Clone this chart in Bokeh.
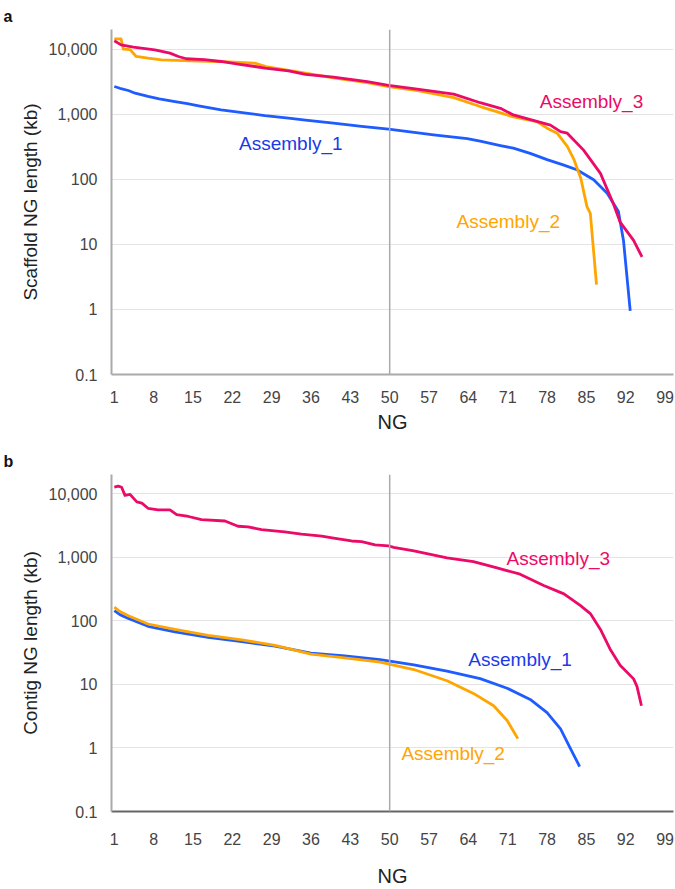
from bokeh.plotting import figure
from bokeh.models import Range1d, FixedTicker, NumeralTickFormatter, Span
from bokeh.layouts import column
from bokeh.core.properties import value
from bokeh.embed import file_html
from bokeh.resources import INLINE

FONT = "Liberation Sans"
BLUE = "#1f5cff"
ORANGE = "#ffa500"
PINK = "#ec0a68"
BLUE_T = "#1a3ae8"

x_ticks = [1, 8, 15, 22, 29, 36, 43, 50, 57, 64, 71, 78, 85, 92, 99]
y_ticks = [0.1, 1, 10, 100, 1000, 10000]
series_names = ["Assembly_1", "Assembly_2", "Assembly_3"]

# ---- Panel a: scaffold NG length (kb) ----
sc1_ng = [1, 2, 3.5, 4.7, 7, 9, 11.8, 14, 16, 20, 24.8, 27.8, 32, 35, 40, 45, 49.8,
          54, 57.8, 63.8, 66.1, 69.7, 72, 75, 78, 81, 83.3, 86.3, 88.7, 90.7, 91.6, 92.8]
sc1_len = [2660, 2500, 2310, 2100, 1870, 1720, 1560, 1450, 1340, 1160, 1030, 950, 870,
           810, 730, 650, 590, 530, 480, 420, 385, 330, 300, 250, 200, 165, 140, 98,
           61, 32, 11.5, 0.95]

sc2_ng = [1, 2.2, 2.6, 3.8, 4.9, 7, 9.4, 14.7, 19.5, 26, 28, 29.6, 35, 40, 46, 49.8,
          55, 61.4, 66.1, 72, 76.2, 78, 79.8, 81.6, 82.8, 84, 85.1, 85.7, 86.8]
sc2_len = [14400, 14400, 10000, 9800, 7700, 7250, 6850, 6600, 6450, 6100, 5400, 5100,
           4270, 3600, 3050, 2650, 2300, 1800, 1310, 910, 770, 610, 510, 320, 200, 104,
           38, 30, 2.4]

sc3_ng = [1, 2.2, 4.4, 8.2, 10.9, 12.4, 13.8, 17, 20, 23, 26, 27.8, 32, 35, 40, 46,
          49.8, 54.9, 61.4, 66.1, 69.7, 72, 78.6, 80.4, 81.6, 84.5, 87.5, 89.8, 91,
          93.4, 94.9]
sc3_len = [13400, 11600, 10700, 9750, 8680, 7700, 7100, 6900, 6450, 5880, 5400, 5090,
           4640, 4100, 3720, 3170, 2760, 2420, 2030, 1500, 1230, 975, 680, 540, 510,
           280, 123, 42, 22, 11.5, 6.4]

# ---- Panel b: contig NG length (kb) ----
ct1_ng = [1, 2, 3.5, 7, 11.8, 17.7, 23.7, 29.6, 36, 42, 48.3, 54.3, 60.2, 66.1, 70.9,
          75, 78, 80.4, 82.1, 83.8]
ct1_len = [144, 125, 109, 82, 67, 55, 47, 40, 31, 28, 24.5, 20.2, 16.2, 12.3, 8.7,
           5.8, 3.6, 2.0, 1.0, 0.51]

ct2_ng = [1, 2, 3.5, 7, 11.8, 17.7, 23.7, 29.6, 36, 42, 48.3, 54.3, 60.2, 64.9, 68.5,
          70.9, 72.8]
ct2_len = [164, 140, 120, 89, 73, 59, 50, 41, 30, 26, 22.3, 17.1, 11.4, 7.2, 4.6, 2.7, 1.4]

ct3_ng = [1, 1.7, 2.3, 2.9, 3.8, 5, 5.9, 7, 8.8, 10.9, 12.1, 14.2, 16.5, 20.7, 23, 24.8,
          27.2, 31.3, 34.3, 37.9, 40.3, 43.2, 45, 47.4, 49.8, 50.7, 54.3, 60.2, 64.9,
          69.1, 73.2, 77.4, 81, 83.9, 85.7, 87.5, 89.2, 91, 93.4, 94, 94.8]
ct3_len = [12650, 13100, 12600, 9400, 9750, 7430, 7100, 5880, 5540, 5540, 4690, 4370,
           3890, 3710, 3070, 3000, 2720, 2510, 2310, 2150, 1980, 1800, 1760, 1560, 1510,
           1430, 1260, 980, 850, 680, 540, 360, 265, 175, 130, 73, 36, 20, 12.2, 9.3, 4.6]

# label anchor positions (NG, kb)
lab_a_x = [32.4, 71.1, 85.9]
lab_a_y = [349, 22.8, 1545]
lab_b_x = [73.2, 61.3, 80.0]
lab_b_y = [24.5, 0.817, 942]


def make_panel(height, top, bottom, ylabel, letter, title_standoff, xaxis_color,
               xlab_standoff, ng_standoff, data, lab_x, lab_y):
    p = figure(width=674, height=height, y_axis_type="log",
               x_range=Range1d(0.5, 100.5), y_range=Range1d(0.1, 20000),
               output_backend="svg", toolbar_location=None,
               min_border_left=111, min_border_right=1,
               min_border_top=top, min_border_bottom=bottom)
    p.outline_line_color = None
    p.background_fill_color = "white"
    p.xgrid.grid_line_color = None
    p.ygrid.grid_line_color = "#e4e4e4"
    p.ygrid.grid_line_width = 1
    p.yaxis.minor_tick_line_color = None

    p.title.text = letter
    p.title.text_font = FONT
    p.title.text_font_size = "16px"
    p.title.text_font_style = "bold"
    p.title.text_color = "#111111"
    p.title.align = "left"
    p.title.offset = -108
    p.title.standoff = title_standoff

    p.xaxis.ticker = FixedTicker(ticks=x_ticks)
    p.yaxis.ticker = FixedTicker(ticks=y_ticks)
    p.yaxis.formatter = NumeralTickFormatter(format="0,0.[0]")
    for ax in (p.xaxis[0], p.yaxis[0]):
        ax.major_tick_line_color = None
        ax.minor_tick_line_color = None
        ax.major_tick_out = 0
        ax.major_label_text_font = FONT
        ax.major_label_text_font_size = "16px"
        ax.major_label_text_color = "#444444"
        ax.axis_label_text_font = FONT
        ax.axis_label_text_font_style = "normal"
        ax.axis_label_text_color = "#222222"
        ax.axis_line_width = 2
    p.yaxis.axis_line_color = "#aaaaaa"
    p.xaxis.axis_line_color = xaxis_color
    p.yaxis.axis_label = ylabel
    p.yaxis.axis_label_text_font_size = "19px"
    p.yaxis.major_label_standoff = 14
    p.yaxis.axis_label_standoff = 5
    p.xaxis.axis_label = "NG"
    p.xaxis.axis_label_text_font_size = "20px"
    p.xaxis.major_label_standoff = xlab_standoff
    p.xaxis.axis_label_standoff = ng_standoff

    p.add_layout(Span(location=50, dimension="height", line_color="#aaaaaa",
                      line_width=1.5))

    colors = [BLUE, ORANGE, PINK]
    for (xs, ys), c in zip(data, colors):
        p.line(xs, ys, line_color=c, line_width=2.8, line_join="round")

    p.text(x=lab_x, y=lab_y, text=series_names,
           text_color=[BLUE_T, ORANGE, PINK],
           text_font=value(FONT), text_font_size="19px",
           text_align="center", text_baseline="middle")
    return p


pa = make_panel(444, 29, 70, "Scaffold NG length (kb)", "a", 10, "#aaaaaa", 16, 5,
                [(sc1_ng, sc1_len), (sc2_ng, sc2_len), (sc3_ng, sc3_len)],
                lab_a_x, lab_a_y)
pb = make_panel(445, 30, 70, "Contig NG length (kb)", "b", 10, "#666666", 21, 17,
                [(ct1_ng, ct1_len), (ct2_ng, ct2_len), (ct3_ng, ct3_len)],
                lab_b_x, lab_b_y)

layout = column(pa, pb, spacing=0)
open("out.html", "w").write(file_html(layout, INLINE))
